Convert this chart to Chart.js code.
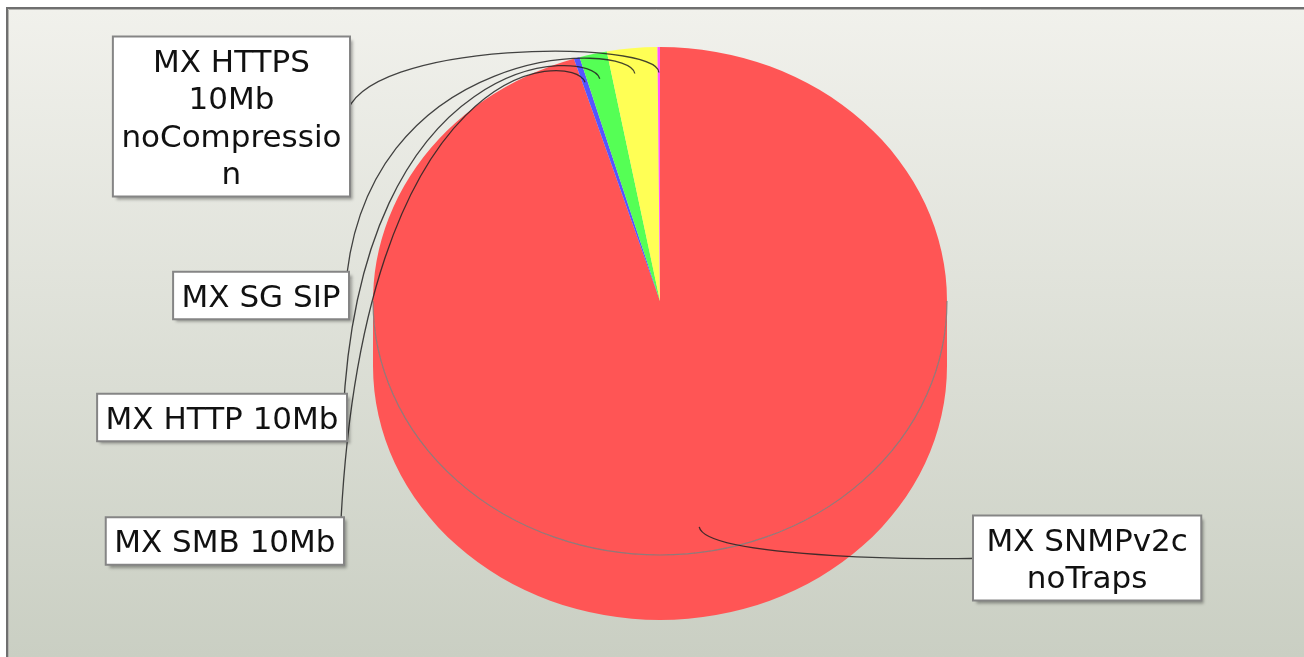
<!DOCTYPE html>
<html><head><meta charset="utf-8">
<script src="https://cdn.jsdelivr.net/npm/chart.js@4/dist/chart.umd.min.js"></script>
<style>html,body{margin:0;padding:0;background:#fff;overflow:hidden}canvas{display:block}</style>
</head><body>
<canvas id="c" width="1304" height="657"></canvas>
<script>
// ---- data ----
const categories = ['MX SNMPv2c noTraps', 'MX SMB 10Mb', 'MX HTTP 10Mb', 'MX SG SIP', 'MX HTTPS 10Mb noCompression'];
const labelLines = [['MX SNMPv2c', 'noTraps'], ['MX SMB 10Mb'], ['MX HTTP 10Mb'], ['MX SG SIP'], ['MX HTTPS', '10Mb', 'noCompressio', 'n']];
const values = [95.15, 0.33, 1.55, 2.83, 0.14];
const colors = ['#FF5555', '#5555FF', '#55FF55', '#FFFF55', '#FF55FF'];

// ---- layout (positions / styles) ----
const L = {
  ratio: 254 / 287, depth: 65,
  linkW: 300, linkH: 262, linkPct: 0.9,
  font: '31px "DejaVu Sans"', lineH: 37.5, padY: 5,
  padX: [13.5, 8.5, 8.5, 8.5, 8.5],
  boxEdge: [973, 344, 347, 349, 350],
  boxCY: [558, 541, 417.5, 295.5, 116.5]
};

const pie3d = {
  id: 'pie3d',
  beforeDraw(chart) {
    const ctx = chart.ctx, W = chart.width, H = chart.height;
    ctx.save();
    ctx.fillStyle = '#ffffff';
    ctx.fillRect(0, 0, W, H);
    const g = ctx.createLinearGradient(0, 9, 0, H);
    g.addColorStop(0, '#f1f1ec');
    g.addColorStop(1, '#cacfc3');
    ctx.fillStyle = g;
    ctx.fillRect(7, 8, W, H);
    ctx.strokeStyle = '#6f6f6f';
    ctx.lineWidth = 2;
    ctx.beginPath();
    ctx.moveTo(7, H); ctx.lineTo(7, 8); ctx.lineTo(W, 8);
    ctx.stroke();
    ctx.strokeStyle = '#b4b4b0';
    ctx.lineWidth = 1;
    ctx.beginPath();
    ctx.moveTo(8.5, H); ctx.lineTo(8.5, 9.5); ctx.lineTo(W, 9.5);
    ctx.stroke();
    ctx.restore();
  },
  beforeDatasetsDraw(chart) {
    const ctx = chart.ctx;
    const arcs = chart.getDatasetMeta(0).data;
    const a0 = arcs[0];
    const cx = a0.x, cy = a0.y, R = a0.outerRadius, ry = R * L.ratio;
    ctx.save();
    arcs.forEach((arc, i) => {
      const a1 = Math.max(arc.startAngle, 0), a2 = Math.min(arc.endAngle, Math.PI);
      if (a2 <= a1) return;
      ctx.beginPath();
      ctx.ellipse(cx, cy, R, ry, 0, a1, a2, false);
      ctx.ellipse(cx, cy + L.depth, R, ry, 0, a2, a1, true);
      ctx.closePath();
      ctx.fillStyle = colors[i];
      ctx.fill();
    });
    ctx.restore();
    ctx.save();
    ctx.translate(cx, cy);
    ctx.scale(1, L.ratio);
    ctx.translate(-cx, -cy);
  },
  afterDatasetsDraw(chart) {
    const ctx = chart.ctx;
    ctx.restore();
    const arcs = chart.getDatasetMeta(0).data;
    const a0 = arcs[0];
    const cx = a0.x, cy = a0.y, R = a0.outerRadius, ry = R * L.ratio;
    ctx.save();
    ctx.strokeStyle = 'rgba(125,125,125,0.85)';
    ctx.lineWidth = 1.2;
    ctx.beginPath();
    ctx.ellipse(cx, cy, R, ry, 0, 0, Math.PI, false);
    ctx.stroke();
    ctx.restore();

    ctx.save();
    ctx.font = L.font;
    const boxes = arcs.map((arc, i) => {
      const m = (arc.startAngle + arc.endAngle) / 2;
      const left = Math.cos(m) < 0;
      const lines = labelLines[i];
      const tw = Math.max(...lines.map(t => ctx.measureText(t).width));
      const w = tw + 2 * L.padX[i];
      const h = lines.length * L.lineH + 2 * L.padY;
      const x = left ? L.boxEdge[i] - w : L.boxEdge[i];
      const y = L.boxCY[i] - h / 2;
      return { m, left, lines, x, y, w, h };
    });
    ctx.strokeStyle = 'rgba(35,35,35,0.85)';
    ctx.lineWidth = 1.3;
    boxes.forEach(b => {
      const ax = cx + L.linkPct * R * Math.cos(b.m);
      const ay = cy + L.linkPct * ry * Math.sin(b.m);
      const ex = cx + L.linkW * Math.cos(b.m);
      const ey = cy + L.linkH * Math.sin(b.m);
      const tx = b.left ? b.x + b.w - 4 : b.x + 4;
      const ty = b.y + b.h / 2;
      const c1x = b.left ? cx - L.linkW : cx + L.linkW;
      ctx.beginPath();
      ctx.moveTo(tx, ty);
      ctx.bezierCurveTo(c1x, ey, ex, ey, ax, ay);
      ctx.stroke();
    });
    boxes.forEach(b => {
      ctx.save();
      ctx.shadowColor = 'rgba(0,0,0,0.35)';
      ctx.shadowOffsetX = 3;
      ctx.shadowOffsetY = 3;
      ctx.shadowBlur = 3;
      ctx.fillStyle = '#ffffff';
      ctx.fillRect(b.x, b.y, b.w, b.h);
      ctx.restore();
      ctx.strokeStyle = '#858585';
      ctx.lineWidth = 2;
      ctx.strokeRect(b.x, b.y, b.w, b.h);
      ctx.fillStyle = '#111111';
      ctx.textAlign = 'center';
      ctx.textBaseline = 'alphabetic';
      b.lines.forEach((t, k) => {
        const capC = b.y + L.padY + L.lineH * (k + 0.5);
        ctx.fillText(t, b.x + b.w / 2, capC + 11.3);
      });
    });
    ctx.restore();
  }
};

new Chart(document.getElementById('c'), {
  type: 'pie',
  data: {
    labels: categories,
    datasets: [{ data: values, backgroundColor: colors, borderWidth: 0, hoverOffset: 0, offset: 0 }]
  },
  options: {
    responsive: false,
    animation: false,
    events: [],
    layout: { padding: { left: 373, right: 357, top: 14, bottom: 69 } },
    plugins: { legend: { display: false }, tooltip: { enabled: false } }
  },
  plugins: [pie3d]
});
</script>
</body></html>
